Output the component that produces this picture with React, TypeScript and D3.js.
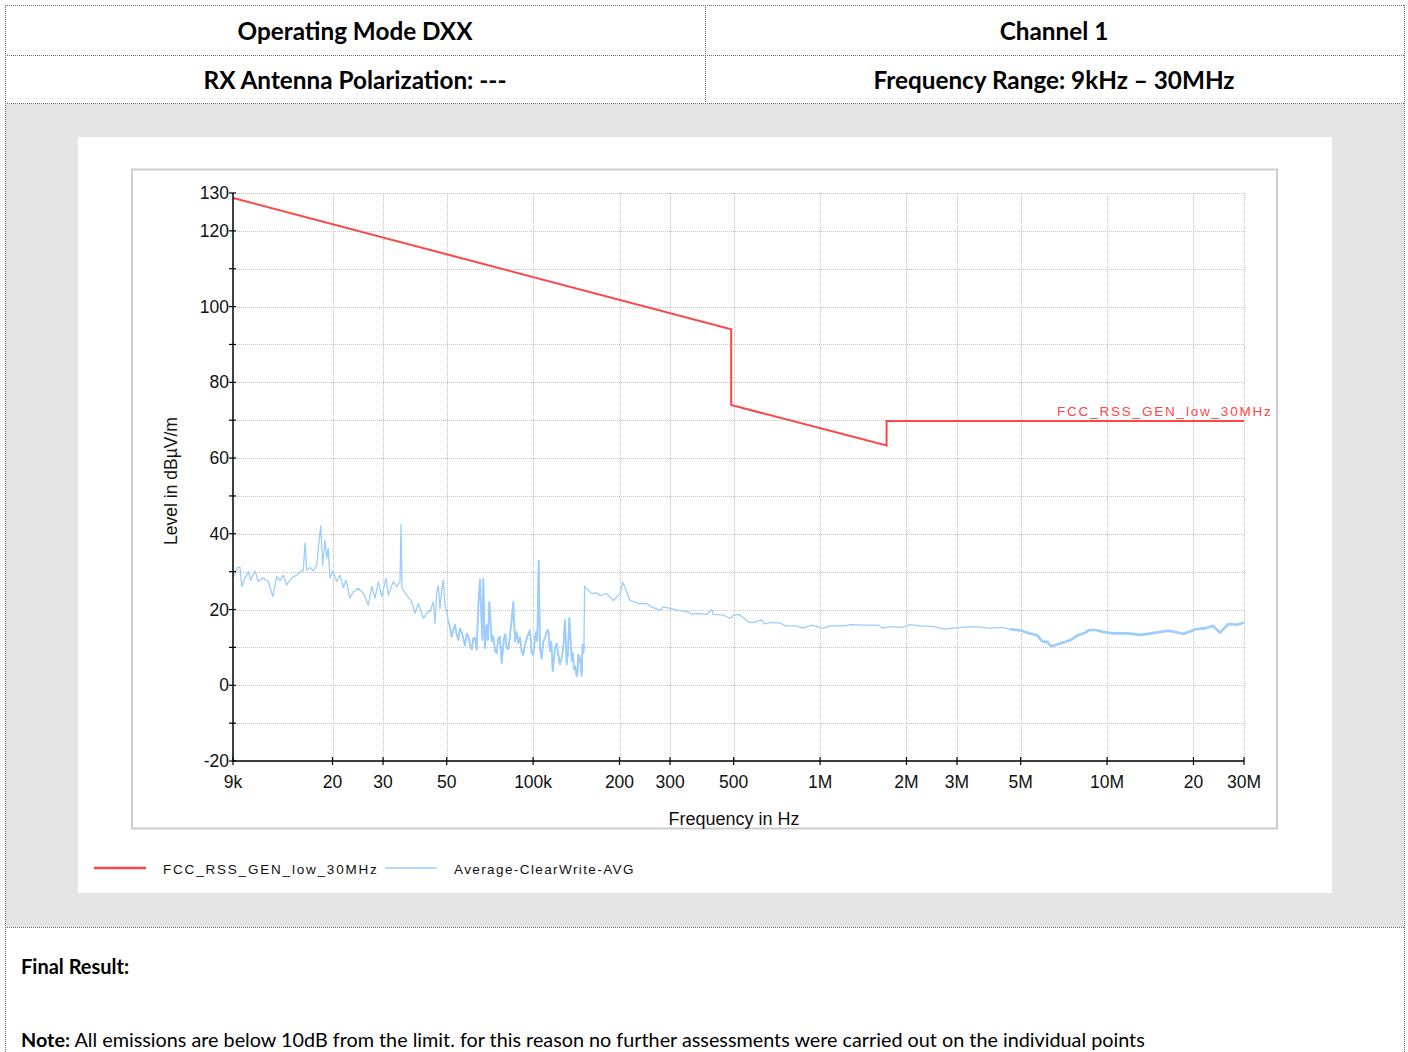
import React from "react";
import * as d3 from "d3";

// ---------- data ----------
const headerCells = ["Operating Mode DXX", "Channel 1", "RX Antenna Polarization: ---", "Frequency Range: 9kHz \u2013 30MHz"];

const limitName = "FCC_RSS_GEN_low_30MHz";
const traceName = "Average-ClearWrite-AVG";

// limit line: [frequency kHz, level dBµV/m]
const limitLine: [number, number][] = [
  [9, 128.7], [490, 94.0], [490, 74.0], [1705, 63.3], [1705, 69.8], [30000, 69.8],
];

// measured trace: [frequency kHz, level dBµV/m]
const avgTrace: [number, number][] = [
  [9.07, 28.7], [9.32, 31.1], [9.52, 31.1], [9.65, 26.1], [9.91, 28.3], [10.18, 30.0], [10.37, 27.8], [10.74, 30.2],
  [11.02, 27.4], [11.48, 28.3], [11.95, 27.4], [12.38, 23.4], [12.78, 28.7], [13.12, 27.6], [13.47, 29.1], [13.85, 26.5],
  [14.41, 28.3], [15.0, 29.1], [15.49, 30.0], [15.82, 30.4], [16.04, 37.5], [16.26, 30.4], [16.69, 31.1], [17.14, 30.2],
  [17.62, 31.7], [17.84, 36.2], [18.19, 42.1], [18.48, 31.7], [18.83, 38.3], [19.09, 33.5], [19.33, 36.2], [19.6, 28.3],
  [20.03, 30.2], [20.68, 27.4], [21.24, 29.1], [21.81, 25.8], [22.28, 27.8], [23.01, 23.0], [23.63, 24.7], [24.6, 25.6],
  [25.6, 24.3], [26.65, 21.2], [27.39, 26.1], [28.13, 23.0], [28.88, 27.4], [29.68, 23.4], [30.72, 28.3], [31.29, 23.8],
  [32.57, 27.4], [33.47, 26.1], [34.37, 27.4], [34.65, 42.4], [34.93, 25.6], [36.27, 23.8], [37.75, 22.1], [38.77, 19.0],
  [39.81, 21.6], [41.44, 17.7], [43.13, 19.5], [43.72, 19.4], [44.9, 22.0], [45.51, 16.3], [46.14, 24.6], [46.73, 26.3],
  [47.37, 20.3], [48.03, 25.0], [48.65, 27.9], [49.31, 21.1], [49.99, 19.8], [50.64, 16.8],
  [51.33, 15.5], [52.0, 12.8], [52.71, 14.6], [53.43, 16.0], [54.16, 13.3], [54.9, 12.0], [55.62, 15.0], [56.38, 14.0],
  [57.11, 12.4], [57.9, 10.5], [58.69, 13.7], [59.45, 13.0], [60.26, 10.7], [61.09, 9.5], [61.88, 12.4], [62.73, 12.5],
  [63.59, 9.4], [64.41, 20.7], [65.3, 27.9], [66.19, 15.9], [66.64, 12.0], [67.05, 28.1], [67.97, 9.8], [68.9, 15.9],
  [69.62, 12.0], [70.35, 22.0], [71.72, 11.6], [72.64, 13.0], [73.65, 9.0], [74.66, 8.5], [75.63, 12.4], [76.66, 12.8],
  [77.72, 5.9], [78.4, 9.0], [79.16, 12.4], [79.99, 13.5], [80.9, 9.8], [81.94, 9.5], [83.07, 13.3], [84.21, 17.2],
  [85.3, 22.0], [86.47, 11.6], [87.65, 14.0], [88.78, 11.1], [90.0, 12.8], [91.23, 9.0], [92.41, 8.0], [93.69, 10.7],
  [95.58, 13.0], [97.51, 14.6], [98.85, 8.5], [100.1, 8.0], [101.5, 12.4], [102.3, 14.0], [103.4, 11.6], [104.6, 32.9],
  [105.7, 9.8], [107.1, 7.0], [108.5, 11.6], [110.0, 12.5], [111.5, 14.2], [112.9, 14.6], [114.5, 9.0], [115.7, 11.5],
  [117.0, 3.7], [118.0, 6.5], [119.2, 9.8], [120.8, 11.0], [122.4, 8.1], [124.0, 5.5], [125.7, 7.2], [127.4, 10.0],
  [129.1, 17.2], [130.9, 5.5], [132.3, 8.5], [133.7, 17.8], [136.3, 6.4], [137.7, 8.5], [138.8, 4.2], [140.3, 5.0],
  [141.8, 2.4], [142.7, 3.0], [143.7, 8.1], [145.1, 7.5], [146.5, 5.5], [147.6, 2.5], [148.8, 10.7], [149.6, 8.5],
  [150.4, 10.7], [151.2, 26.2], [153.7, 25.5], [160.0, 24.2], [166.5, 24.4], [171.0, 23.7], [180.4, 24.2], [190.2, 22.4],
  [200.8, 24.2], [205.2, 27.2], [209.0, 25.9], [217.5, 22.4], [232.5, 21.6], [248.7, 21.6], [258.9, 20.7], [276.7, 19.8],
  [284.1, 20.7], [299.9, 20.3], [320.5, 19.8], [347.3, 19.4], [356.9, 18.7], [371.5, 19.0], [402.5, 18.7], [419.0, 20.0],
  [424.4, 18.7], [459.9, 18.5], [485.3, 17.7], [500.3, 18.5], [521.6, 18.7], [543.4, 17.7], [566.5, 16.6], [590.7, 16.6],
  [624.3, 17.3], [641.6, 16.2], [678.1, 16.6], [726.5, 16.4], [757.4, 15.7], [823.3, 15.7], [870.2, 15.1], [932.3, 15.9],
  [999, 15.3], [1026.6, 15.0], [1085, 15.7], [1211.9, 15.7], [1280.8, 16.0], [1431, 15.9], [1599, 15.9], [1644, 15.1],
  [1786, 15.5], [1941, 15.3], [2052, 16.0], [2228, 15.7], [2489, 15.5], [2703, 14.8], [2939, 15.1], [3106, 15.3],
  [3470, 15.5], [3877, 15.1], [4331, 15.3], [4577, 14.8], [4971, 14.5], [5254, 13.9], [5706, 13.2], [5949, 11.6],
  [6203, 11.4], [6374, 10.3], [6646, 10.7], [7123, 11.4], [7528, 12.1], [7957, 13.3], [8410, 13.9], [8647, 14.6],
  [9139, 14.6], [9658, 14.1], [10490, 13.7], [11719, 13.7], [13093, 13.3], [14220, 13.7], [16339, 14.4], [18500, 13.6],
  [20383, 14.8], [22140, 15.1], [23401, 15.7], [24732, 13.9], [26497, 16.2], [28393, 16.0], [30000, 16.6],
];

const xTickValuesKHz = [9, 20, 30, 50, 100, 200, 300, 500, 1000, 2000, 3000, 5000, 10000, 20000, 30000];
const xTickLabels = ["9k", "20", "30", "50", "100k", "200", "300", "500", "1M", "2M", "3M", "5M", "10M", "20", "30M"];
const yMajorTicks = [-20, 0, 20, 40, 60, 80, 100, 120, 130];
const yGridValues = [-20, -10, 0, 10, 20, 30, 40, 50, 60, 70, 80, 90, 100, 110, 120, 130];

// ---------- layout ----------
const W = 1408;
const H = 1052;
const plot = { left: 233, right: 1244, top: 193, bottom: 761 };
const RED = "#ff4646";
const BLUE = "#9dcdfd";
const docFont = "Lato, 'Open Sans', sans-serif";
const chartFont = "'Liberation Sans', Arial, sans-serif";

export default function App() {
  const x = d3.scaleLog().domain([9, 30000]).range([plot.left, plot.right]);
  const y = d3.scaleLinear().domain([-20, 130]).range([plot.bottom, plot.top]);

  const line = d3
    .line<[number, number]>()
    .x((d) => x(d[0]))
    .y((d) => y(d[1]));

  const denseBand = avgTrace.filter((d) => d[0] >= 50 && d[0] <= 151);
  const highBand = avgTrace.filter((d) => d[0] >= 4500);

  const dotted = { stroke: "#6a6a6a", strokeWidth: 1, strokeDasharray: "1,1" };

  return (
    <svg
      width={W}
      height={H}
      style={{ position: "absolute", left: 0, top: 0, background: "#fff" }}
      xmlns="http://www.w3.org/2000/svg"
    >
      {/* gray panel */}
      <rect x={5} y={104} width={1399} height={823} fill="#e5e5e5" />
      {/* white chart panel */}
      <rect x={78} y={137} width={1254} height={756} fill="#ffffff" />
      {/* plot frame */}
      <rect x={132} y={169.5} width={1145} height={659} fill="none" stroke="#cdcdcd" strokeWidth={2} />

      {/* table lines */}
      <line x1={5} x2={1404} y1={5.5} y2={5.5} {...dotted} />
      <line x1={5} x2={1404} y1={55.5} y2={55.5} {...dotted} />
      <line x1={5} x2={1404} y1={103.5} y2={103.5} {...dotted} />
      <line x1={5} x2={1404} y1={927.5} y2={927.5} {...dotted} />
      <line x1={5.5} x2={5.5} y1={5} y2={1052} {...dotted} />
      <line x1={1404.5} x2={1404.5} y1={5} y2={1052} {...dotted} />
      <line x1={705.5} x2={705.5} y1={5} y2={104} {...dotted} />

      {/* header texts */}
      <g fontFamily={docFont} fontWeight={700} fontSize={24.3} fill="#000" textAnchor="middle">
        <text x={355} y={40}>{headerCells[0]}</text>
        <text x={1054} y={40}>{headerCells[1]}</text>
        <text x={355} y={89}>{headerCells[2]}</text>
        <text x={1054} y={89}>{headerCells[3]}</text>
      </g>

      {/* grid */}
      <g>
        {yGridValues.map((v) => (
          <line
            key={"gy" + v}
            x1={plot.left}
            x2={plot.right}
            y1={Math.round(y(v)) + 0.5}
            y2={Math.round(y(v)) + 0.5}
            stroke="#c4c4c4"
            strokeWidth={1}
            strokeDasharray="1,1"
          />
        ))}
        {xTickValuesKHz.slice(1).map((v) => (
          <line
            key={"gx" + v}
            x1={Math.round(x(v)) + 0.5}
            x2={Math.round(x(v)) + 0.5}
            y1={plot.top}
            y2={plot.bottom}
            stroke="#c4c4c4"
            strokeWidth={1}
            strokeDasharray="1,1"
          />
        ))}
      </g>

      {/* data */}
      <path d={line(avgTrace) || ""} fill="none" stroke={BLUE} strokeWidth={1.3} strokeLinejoin="round" />
      <path d={line(denseBand) || ""} fill="none" stroke={BLUE} strokeWidth={1.8} strokeLinejoin="round" />
      <path d={line(highBand) || ""} fill="none" stroke={BLUE} strokeWidth={2.6} strokeLinejoin="round" />
      <path d={line(limitLine) || ""} fill="none" stroke={RED} strokeWidth={2} />

      {/* axes */}
      <g stroke="#000" strokeWidth={1.5}>
        <line x1={plot.left} x2={plot.left} y1={plot.top} y2={plot.bottom} />
        <line x1={plot.left} x2={plot.right} y1={plot.bottom} y2={plot.bottom} />
        {yGridValues.map((v) => (
          <line key={"ty" + v} x1={plot.left - 4} x2={plot.left + 3} y1={y(v)} y2={y(v)} strokeWidth={1.2} />
        ))}
        {xTickValuesKHz.map((v) => (
          <line key={"tx" + v} x1={x(v)} x2={x(v)} y1={plot.bottom - 4} y2={plot.bottom + 4} strokeWidth={1.2} />
        ))}
      </g>
      <g fontFamily={chartFont} fontSize={17.5} fill="#111">
        {yMajorTicks.map((v) => (
          <text key={"ly" + v} x={plot.left - 4} y={y(v) + 6} textAnchor="end">
            {v}
          </text>
        ))}
        {xTickValuesKHz.map((v, i) => (
          <text key={"lx" + v} x={x(v)} y={788} textAnchor="middle">
            {xTickLabels[i]}
          </text>
        ))}
        <text x={734} y={825} textAnchor="middle" fontSize={18}>
          Frequency in Hz
        </text>
        <text transform="translate(177,481) rotate(-90)" textAnchor="middle" fontSize={17.5}>
          Level in dB{"\u00b5"}V/m
        </text>
      </g>

      {/* limit label */}
      <text x={1057} y={416} fontFamily={chartFont} fontSize={13.5} fill={RED} letterSpacing={1.8}>
        {limitName}
      </text>

      {/* legend */}
      <line x1={94} x2={146} y1={868} y2={868} stroke={RED} strokeWidth={2.5} />
      <text x={163} y={873.5} fontFamily={chartFont} fontSize={13.5} fill="#111" letterSpacing={1.8}>
        {limitName}
      </text>
      <line x1={385} x2={437} y1={868} y2={868} stroke={BLUE} strokeWidth={1.5} />
      <text x={454} y={873.5} fontFamily={chartFont} fontSize={13.5} fill="#111" letterSpacing={1.4}>
        {traceName}
      </text>

      {/* footer */}
      <text x={21} y={974} fontFamily={docFont} fontWeight={700} fontSize={20} fill="#000">
        Final Result:
      </text>
      <text x={21} y={1047} fontFamily={docFont} fontSize={19.8} fill="#000">
        <tspan fontWeight={700}>Note:</tspan>
        <tspan> All emissions are below 10dB from the limit. for this reason no further assessments were carried out on the individual points</tspan>
      </text>
    </svg>
  );
}
